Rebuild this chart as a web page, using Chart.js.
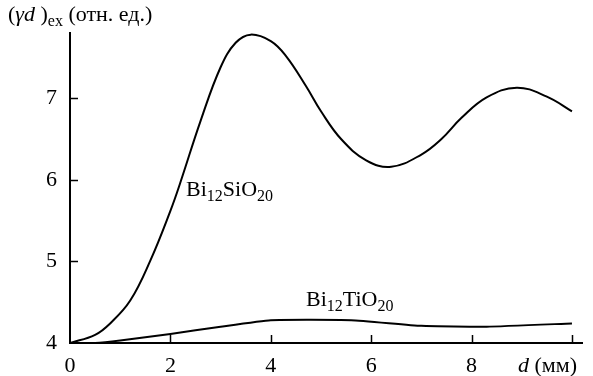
<!DOCTYPE html>
<html>
<head>
<meta charset="utf-8">
<script src="https://cdn.jsdelivr.net/npm/chart.js@4/dist/chart.umd.min.js"></script>
<style>
  html, body { margin: 0; padding: 0; background: #fff; }
  #wrap { width: 593px; height: 376px; position: relative; }
</style>
</head>
<body>
<div id="wrap"><canvas id="chart"></canvas></div>
<script>
// d (мм) and (γd)ex values
const siD = [0, 0.5, 0.8, 1.2, 1.6, 2.0, 2.2, 2.6, 3.0, 3.3, 3.6, 4.0, 4.3, 4.7, 5.0, 5.4, 5.9, 6.4, 7.0, 7.4, 7.8, 8.3, 8.9, 9.5, 10.0];
const siVal = [4.0, 4.1, 4.24, 4.52, 5.01, 5.62, 5.97, 6.72, 7.38, 7.68, 7.78, 7.70, 7.52, 7.15, 6.84, 6.50, 6.24, 6.16, 6.31, 6.50, 6.76, 7.01, 7.13, 7.02, 6.84];
const tiD = [0, 0.5, 1.0, 2.0, 3.0, 4.0, 5.6, 7.0, 8.3, 10.0];
const tiVal = [4.0, 4.0, 4.03, 4.11, 4.2, 4.28, 4.28, 4.21, 4.2, 4.24];
const xTicks = [0, 2, 4, 6, 8, 10];
const yTicks = [4, 5, 6, 7];

const FONT = '"Liberation Serif", "Times New Roman", serif';

const toPts = (xs, ys) => xs.map((x, i) => ({ x: x, y: ys[i] }));

// draws inward tick marks plus the axis titles and curve labels
const decor = {
  id: 'decor',
  afterDraw(chart) {
    const ctx = chart.ctx;
    const xs = chart.scales.x, ys = chart.scales.y;
    const left = chart.chartArea.left, bottom = chart.chartArea.bottom;
    ctx.save();
    ctx.strokeStyle = '#000';
    ctx.lineWidth = 1.5;
    ctx.beginPath();
    xTicks.slice(1).forEach(v => {
      const px = Math.round(xs.getPixelForValue(v)) + 0.5;
      ctx.moveTo(px, bottom); ctx.lineTo(px, bottom - 8);
    });
    yTicks.slice(1).forEach(v => {
      const py = Math.round(ys.getPixelForValue(v)) + 0.5;
      ctx.moveTo(left, py); ctx.lineTo(left + 8, py);
    });
    ctx.stroke();

    ctx.fillStyle = '#000';
    ctx.textBaseline = 'alphabetic';
    ctx.textAlign = 'left';

    // writes a run of [text, style, dy, size] pieces
    const run = (x, y, parts) => {
      parts.forEach(p => {
        ctx.font = (p[1] || '') + ' ' + (p[3] || 22) + 'px ' + FONT;
        ctx.fillText(p[0], x, y + (p[2] || 0));
        x += ctx.measureText(p[0]).width;
      });
    };

    run(8, 21, [['(', ''], ['γd', 'italic'], [' )', ''], ['ex', '', 5, 16], [' (отн. ед.)', '']]);
    run(518, 372, [['d', 'italic'], [' (мм)', '']]);
    run(186, 196, [['Bi', ''], ['12', '', 5, 16], ['SiO', ''], ['20', '', 5, 16]]);
    run(306, 306, [['Bi', ''], ['12', '', 5, 16], ['TiO', ''], ['20', '', 5, 16]]);
    ctx.restore();
  }
};

new Chart(document.getElementById('chart'), {
  type: 'line',
  data: {
    datasets: [
      { data: toPts(siD, siVal), borderColor: '#000', borderWidth: 2, pointRadius: 0, tension: 0.4, fill: false },
      { data: toPts(tiD, tiVal), borderColor: '#000', borderWidth: 2, pointRadius: 0, tension: 0.15, fill: false }
    ]
  },
  options: {
    responsive: true,
    maintainAspectRatio: false,
    animation: false,
    layout: { padding: { top: 33, right: 11, left: 0, bottom: 0 } },
    plugins: { legend: { display: false }, tooltip: { enabled: false } },
    scales: {
      x: {
        type: 'linear',
        min: 0, max: 10.2,
        afterFit(s) { s.height = 33; },
        afterBuildTicks(s) { s.ticks = xTicks.map(v => ({ value: v })); },
        grid: { display: true, drawOnChartArea: false, drawTicks: false },
        border: { color: '#000', width: 2 },
        ticks: {
          padding: 10,
          color: '#000',
          font: { family: FONT, size: 22 },
          callback: v => (v === 10 ? '' : String(v))
        }
      },
      y: {
        min: 4, max: 7.8,
        afterFit(s) { s.width = 70; },
        afterBuildTicks(s) { s.ticks = yTicks.map(v => ({ value: v })); },
        grid: { display: true, drawOnChartArea: false, drawTicks: false },
        border: { color: '#000', width: 2 },
        ticks: {
          padding: 13,
          color: '#000',
          font: { family: FONT, size: 22 },
          callback: v => String(v)
        }
      }
    }
  },
  plugins: [decor]
});
</script>
</body>
</html>
